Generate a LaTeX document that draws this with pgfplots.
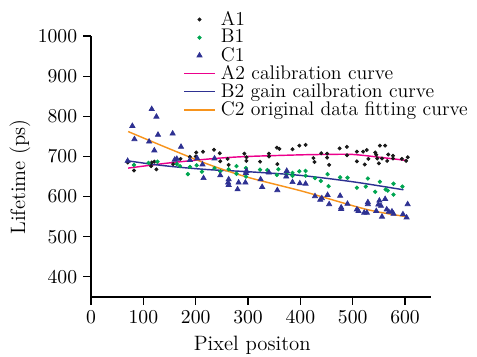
\documentclass[border=0pt]{standalone}
\usepackage{pgfplots}
\pgfplotsset{compat=1.18}
\definecolor{cA}{RGB}{25,25,25}
\definecolor{cB}{RGB}{0,166,81}
\definecolor{cC}{RGB}{46,49,146}
\definecolor{cAtwo}{RGB}{236,0,140}
\definecolor{cBtwo}{RGB}{46,49,146}
\definecolor{cCtwo}{RGB}{247,148,29}
\begin{document}
\begin{tikzpicture}
\useasboundingbox (-50.56bp,-32.8bp) rectangle (214.44bp,165bp);
\begin{axis}[
 scale only axis, width=189bp, height=145bp,
 xmin=0,xmax=650,ymin=350,ymax=1000,
 axis lines=left, axis line style={-, line width=0.6pt},
 tick align=outside, major tick length=4.2bp,
 xtick={0,100,...,600}, ytick={400,500,...,1000},
 /pgf/number format/1000 sep={},
 tick style={line width=0.6pt, black},
 tick label style={font=\fontsize{11}{13}\selectfont},
 label style={font=\fontsize{11.6}{14}\selectfont},
 xlabel={Pixel positon}, ylabel={Lifetime (ps)},
 xlabel style={at={(axis description cs:0.474,-0.184)},anchor=center},
 ylabel style={at={(axis description cs:-0.209,0.46)},anchor=center},
 legend style={draw=none, fill=none, font=\fontsize{11}{13}\selectfont, at={(axis description cs:0.255,1.117)}, anchor=north west, row sep=-1.15pt, column sep=2bp, nodes={inner sep=1pt}},
 legend cell align=left,
 clip=false,
]
\addplot[only marks, mark=*, mark size=0.9pt, color=cA] coordinates {
(70,685)(82,665)(116,685)(115,676)(121,687)(125,668)(157,681)(171,694)(189,699)(200,700)
(201,710)(214,712)(235,717)(246,708)(247,688)(261,694)(263,679)(293,707)(297,698)(297,689)
(323,687)(340,707)(340,700)(355,722)(356,681)(360,719)(385,718)(398,727)(410,729)(425,696)
(427,686)(440,708)(451,707)(451,697)(455,679)(475,720)(489,724)(489,703)(508,712)(508,688)
(520,712)(527,716)(530,694)(523,680)(543,710)(545,704)(547,695)(550,683)(552,727)(562,727)
(556,695)(568,705)(566,689)(577,702)(577,695)(594,694)(602,689)(605,698)};
\addlegendentry{A1}
\addplot[only marks, mark=*, mark size=1pt, color=cB] coordinates {
(82,679)(110,684)(127,687)(164,681)(170,676)(185,656)(189,674)(202,678)(212,662)(236,671)
(247,663)(263,668)(278,676)(278,657)(296,671)(296,650)(323,667)(337,666)(355,654)(358,668)
(374,656)(385,659)(385,652)(398,663)(410,664)(410,652)(428,646)(439,639)(452,656)(454,626)
(476,648)(490,647)(508,622)(525,625)(529,645)(543,612)(552,637)(563,618)(567,615)(578,632)
(578,605)(595,625)};
\addlegendentry{B1}
\addplot[only marks, mark=triangle*, mark size=1.65pt, color=cC] coordinates {
(70,689)(79,776)(83,743)(111,737)(116,818)(121,715)(125,799)(128,754)(156,757)(160,692)
(164,694)(172,724)(189,691)(203,695)(213,680)(215,646)(236,695)(247,653)(262,635)(263,643)
(263,629)(280,618)(282,635)(295,635)(296,659)(297,664)(324,643)(327,624)(340,660)(356,616)
(373,650)(374,664)(385,636)(399,633)(410,632)(428,601)(438,592)(441,596)(452,604)(455,581)
(476,602)(478,573)(478,569)(490,582)(508,568)(511,564)(522,560)(527,560)(529,586)(529,581)
(545,564)(549,580)(551,590)(554,577)(556,550)(562,594)(565,568)(569,562)(575,563)(578,557)
(596,556)(603,548)(605,581)};
\addlegendentry{C1}
\addplot[smooth, line width=0.8pt, color=cAtwo] coordinates {
(71,671)(150,684)(237,695)(300,700)(400,704)(450,705)(500,705)(558,697)(603,690)};
\addlegendentry{A2 calibration curve}
\addplot[smooth, line width=0.8pt, color=cBtwo] coordinates {
(71,689)(120,680)(170,673)(227,667)(300,662)(399,653)(500,637)(597,617)};
\addlegendentry{B2 gain cailbration curve}
\addplot[smooth, line width=0.8pt, color=cCtwo] coordinates {
(71,762)(150,719)(227,679)(300,648)(405,613)(527,568)(603,550)};
\addlegendentry{C2 original data fitting curve}
\end{axis}
\end{tikzpicture}
\end{document}
